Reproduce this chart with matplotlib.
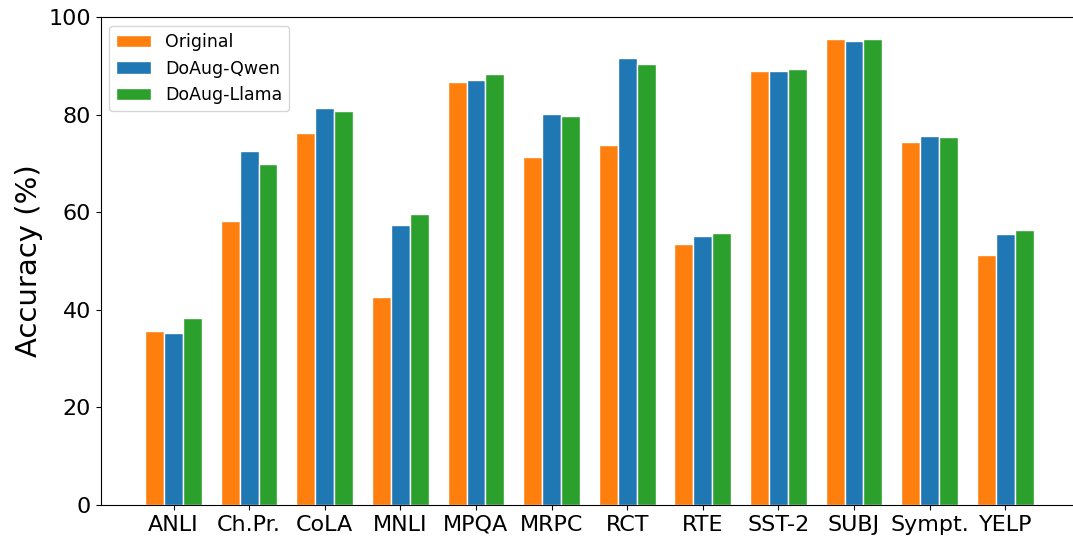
import numpy as np
import matplotlib.pyplot as plt

datasets = ["ANLI", "Ch.Pr.", "CoLA", "MNLI", "MPQA", "MRPC", "RCT", "RTE",
            "SST-2", "SUBJ", "Sympt.", "YELP"]
original = [35.7, 58.2, 76.3, 42.6, 86.7, 71.3, 73.8, 53.5, 88.9, 95.5, 74.4, 51.2]
doaug_qwen = [35.2, 72.6, 81.5, 57.3, 87.1, 80.2, 91.6, 55.1, 88.9, 95.1, 75.6, 55.5]
doaug_llama = [38.3, 70.0, 80.7, 59.6, 88.4, 79.8, 90.4, 55.8, 89.5, 95.5, 75.4, 56.3]

series = [("Original", original, "#ff7f0e"),
          ("DoAug-Qwen", doaug_qwen, "#1f77b4"),
          ("DoAug-Llama", doaug_llama, "#2ca02c")]

fig = plt.figure(figsize=(10.73, 5.38), dpi=100)
# right edge of the axes falls just outside the image, as in the original crop
ax = fig.add_axes([0.0939, 0.0617, 0.9108, 0.9061])

x = np.arange(len(datasets))
w = 0.25
for i, (name, vals, col) in enumerate(series):
    ax.bar(x + (i - 1) * w, vals, w, label=name, color=col,
           edgecolor="white", linewidth=1)

ax.set_xticks(x)
ax.set_xticklabels(datasets, fontsize=16)
ax.tick_params(axis="y", labelsize=16)
ax.set_ylim(0, 100)
ax.set_ylabel("Accuracy (%)", fontsize=21)
ax.spines["right"].set_visible(False)
ax.legend(loc="upper left", fontsize=12.5)

fig.savefig("out.png", dpi=100)
